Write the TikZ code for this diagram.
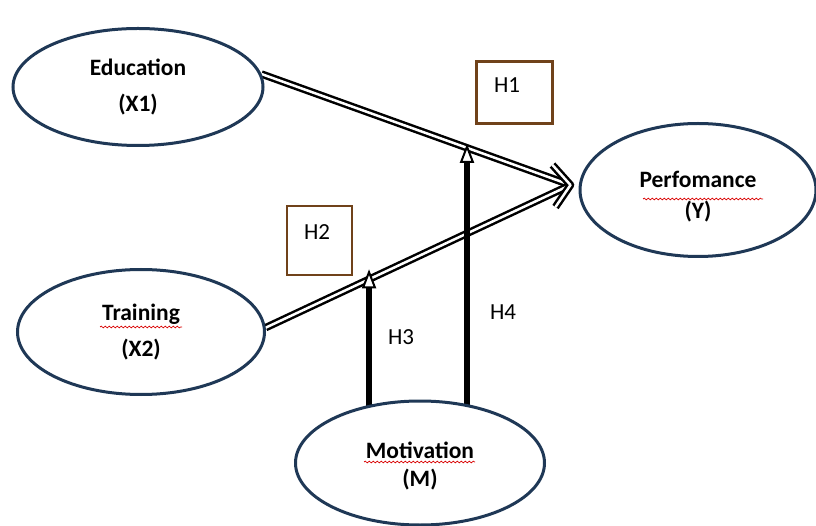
\documentclass[tikz,border=0pt]{standalone}
\usepackage{fontspec}
\setmainfont{Carlito}
\usepackage{tikz}
\usetikzlibrary{shapes.geometric,arrows.meta,backgrounds,decorations.pathmorphing}
\definecolor{navy}{RGB}{31,56,86}
\definecolor{hbrown}{RGB}{112,66,26}

\tikzset{
  factor/.style={ellipse, draw=navy, line width=3pt, fill=white, inner sep=0pt,
    align=center, font=\bfseries\fontsize{23.5}{36}\selectfont},
  hbox/.style={draw=hbrown, inner sep=0pt},
  hlabel/.style={font=\fontsize{23}{26}\selectfont},
  dbl/.style={double, double distance=2.5pt, line width=2.5pt},
  moderate/.style={line width=5.5pt, -{Triangle[length=19pt,width=14pt,line width=2pt,fill=white]}},
  spell/.style={red!85!black, line width=0.7pt, decorate,
    decoration={snake, amplitude=0.9pt, segment length=4pt}},
}

\begin{document}
\begin{tikzpicture}[x=1pt,y=-1pt]
\useasboundingbox (0,0) rectangle (816,526);
%factors
\node[factor, minimum width=250pt, minimum height=117pt] (edu) at (138,87) {Education\\(X1)};
\node[factor, minimum width=247pt, minimum height=125pt] (trn) at (141,332) {Training\\(X2)};
\node[factor, minimum width=236pt, minimum height=133pt] (perf) at (698,190) {\rule{0pt}{30pt}Perfomance\\[-5pt](Y)};
\node[factor, minimum width=249pt, minimum height=124pt] (mot) at (420,463) {\rule{0pt}{22pt}Motivation\\[-8pt](M)};
%hypothesis boxes
\node[hbox, line width=3pt, minimum width=76pt, minimum height=62pt] (h1box) at (514,93) {};
\node[hlabel] (h1) at (507,85) {H1};
\node[hbox, line width=1.8pt, minimum width=65pt, minimum height=69pt] (h2box) at (319.5,240.5) {};
\node[hlabel] (h2) at (317,232) {H2};
\node[hlabel] (h3) at (401,337) {H3};
\node[hlabel] (h4) at (503,312) {H4};
%spelling marks
\draw[spell] (100,327) -- (182,327);
\draw[spell] (643,199) -- (763,199);
\draw[spell] (364,462) -- (475,462);
%paths
\coordinate (tip) at ([xshift=-8pt,yshift=5pt]perf.west);
\begin{scope}[on background layer]
\draw[dbl, shorten >=3pt] (edu.6) -- coordinate[pos=0.665] (onEdu) (tip);
\draw[dbl, shorten >=3pt] (trn.2) -- coordinate[pos=0.339] (onTrn) (tip);
\draw[dbl, line join=round] ([xshift=-18pt,yshift=20pt]tip) -- (tip) -- ([xshift=-15pt,yshift=-22pt]tip);
\draw[moderate] (onTrn |- mot.center) -- ([yshift=10pt]onTrn);
\draw[moderate] (onEdu |- mot.center) -- ([yshift=4pt]onEdu);
\end{scope}
\end{tikzpicture}
\end{document}
